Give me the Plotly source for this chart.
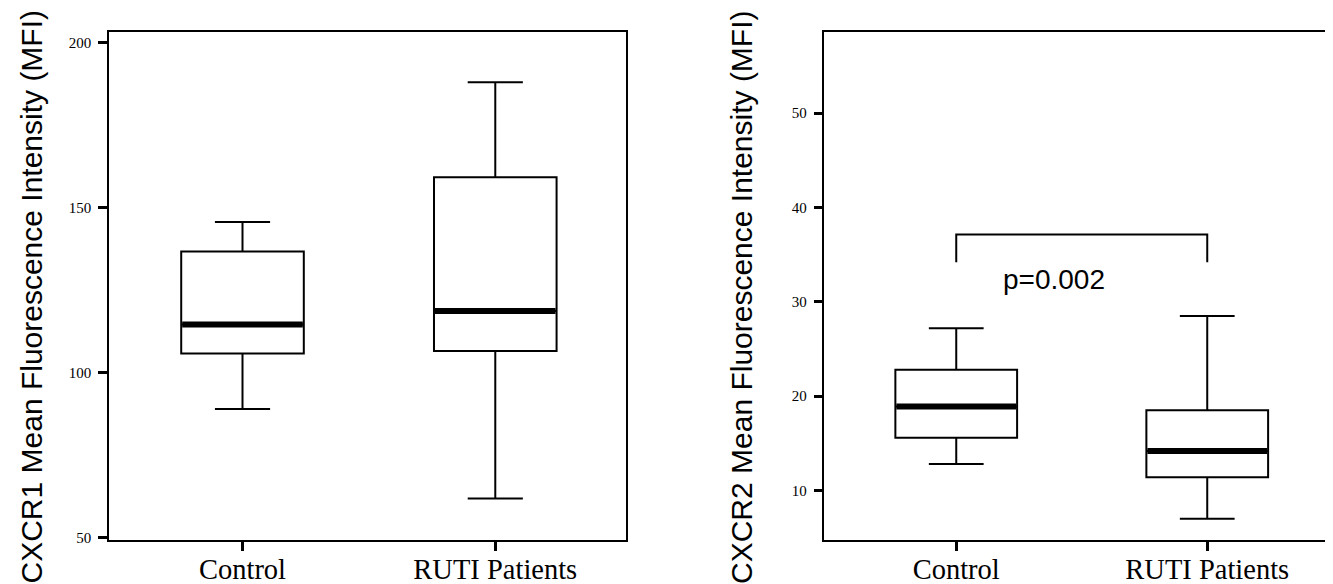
import plotly.graph_objects as go

# ---- data ----
categories = ["Control", "RUTI Patients"]
cat_pos = [0, 1]

# CXCR1 (left panel)
cxcr1_low = [88.9, 61.8]
cxcr1_q1 = [105.7, 106.5]
cxcr1_med = [114.5, 118.6]
cxcr1_q3 = [136.6, 159.1]
cxcr1_high = [145.6, 187.9]
cxcr1_ticks = [50, 100, 150, 200]

# CXCR2 (right panel)
cxcr2_low = [12.8, 7.0]
cxcr2_q1 = [15.6, 11.4]
cxcr2_med = [18.9, 14.2]
cxcr2_q3 = [22.8, 18.5]
cxcr2_high = [27.2, 28.5]
cxcr2_ticks = [10, 20, 30, 40, 50]

bracket_low = 34.2
bracket_high = 37.15
p_text = "p=0.002"
p_y = 32.35

y_titles = ["CXCR1 Mean Fluorescence Intensity (MFI)",
            "CXCR2 Mean Fluorescence Intensity (MFI)"]

BOX_W = 0.485

fig = go.Figure()

def add_panel(xa, ya, low, q1, med, q3, high):
    for i, p in enumerate(cat_pos):
        fig.add_trace(go.Box(
            x=[p], q1=[q1[i]], median=[med[i]], q3=[q3[i]],
            lowerfence=[low[i]], upperfence=[high[i]],
            width=BOX_W, whiskerwidth=0.45,
            line=dict(color="black", width=2), fillcolor="white",
            boxpoints=False, showlegend=False, xaxis=xa, yaxis=ya,
            hoverinfo="skip",
        ))
        fig.add_trace(go.Scatter(
            x=[p - BOX_W / 2 + 0.004, p + BOX_W / 2 - 0.004], y=[med[i], med[i]],
            mode="lines", line=dict(color="black", width=6),
            showlegend=False, xaxis=xa, yaxis=ya, hoverinfo="skip",
        ))

add_panel("x", "y", cxcr1_low, cxcr1_q1, cxcr1_med, cxcr1_q3, cxcr1_high)
add_panel("x2", "y2", cxcr2_low, cxcr2_q1, cxcr2_med, cxcr2_q3, cxcr2_high)

# significance bracket
fig.add_trace(go.Scatter(
    x=[cat_pos[0], cat_pos[0], cat_pos[1], cat_pos[1]],
    y=[bracket_low, bracket_high, bracket_high, bracket_low],
    mode="lines", line=dict(color="black", width=2),
    showlegend=False, xaxis="x2", yaxis="y2", hoverinfo="skip",
))

xcommon = dict(
    tickmode="array", tickvals=cat_pos, ticktext=categories,
    showgrid=False, zeroline=False, showline=True, mirror=True,
    linecolor="black", linewidth=1.5, ticks="outside", ticklen=9, tickwidth=3,
    tickcolor="black", ticklabelstandoff=-6,
    tickfont=dict(family="Liberation Serif", size=28.5, color="black"),
)
ycommon = dict(
    tickmode="array", showgrid=False, zeroline=False, showline=True, mirror=True,
    linecolor="black", linewidth=1.5, ticks="outside", ticklen=9, tickwidth=3,
    tickcolor="black", ticklabelstandoff=4,
    tickfont=dict(family="Liberation Serif", size=15, color="black"),
)

fig.update_layout(
    width=1333, height=584,
    margin=dict(l=0, r=0, t=0, b=0),
    paper_bgcolor="white", plot_bgcolor="white",
    xaxis=dict(domain=[0.0758, 0.4634], range=[-0.528, 1.516], anchor="y", **xcommon),
    yaxis=dict(domain=[0.0793, 0.9584], range=[49.2, 203.1], anchor="x",
               tickvals=cxcr1_ticks, **ycommon),
    xaxis2=dict(domain=[0.6125, 0.9955], range=[-0.525, 1.509], anchor="y2", **xcommon),
    yaxis2=dict(domain=[0.0793, 0.9584], range=[4.74, 58.6], anchor="x2",
                tickvals=cxcr2_ticks, **ycommon),
    annotations=[
        dict(text=p_text, x=0.39, y=p_y, xref="x2", yref="y2", showarrow=False,
             font=dict(family="Liberation Sans", size=28, color="black")),
        dict(text=y_titles[0], x=22.5 / 1333, y=0.5, xref="paper", yref="paper",
             textangle=-90, showarrow=False, xanchor="center", yanchor="middle",
             font=dict(family="Liberation Sans", size=30, color="black")),
        dict(text=y_titles[1], x=733 / 1333, y=0.5, xref="paper", yref="paper",
             textangle=-90, showarrow=False, xanchor="center", yanchor="middle",
             font=dict(family="Liberation Sans", size=30, color="black")),
    ],
)

fig.write_html("out.html")
